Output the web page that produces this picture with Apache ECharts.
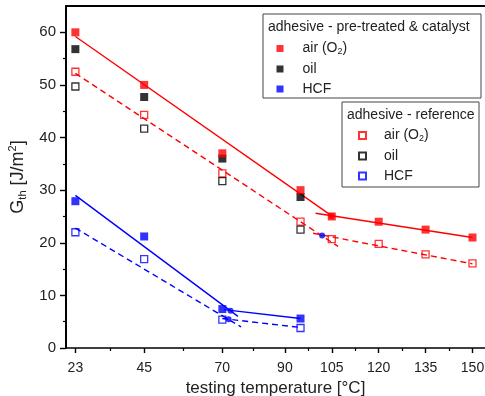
<!DOCTYPE html>
<html>
<head>
<meta charset="utf-8">
<script src="https://cdn.jsdelivr.net/npm/echarts@6/dist/echarts.min.js"></script>
<style>
  html, body { margin: 0; padding: 0; background: #fff; }
  #chart { width: 485px; height: 396px; }
</style>
</head>
<body>
<div id="chart"></div>
<script>
var font = 'Liberation Sans, Arial, sans-serif';
var txt = '#222';

// axis ticks
var xTicks = [23, 45, 70, 90, 105, 120, 135, 150];
var xMinor = [34, 57.5, 80, 97.5, 112.5, 127.5, 142.5];
var yTicks = [0, 10, 20, 30, 40, 50, 60];
var yMinor = [5, 15, 25, 35, 45, 55];

// measured points
var temps = [23, 45, 70, 95, 105, 120, 135, 150];
var airPre = [60, 50, 37, 30, 25, 24, 22.5, 21];
var oilPre = [56.8, 47.7, 36, 28.7];
var hcfPre = [27.9, 21.2, 7.4, 5.6];
var airRef = [52.5, 44.3, 33.2, 24, 20.7, 19.8, 17.8, 16.1];
var oilRef = [49.7, 41.7, 31.7, 22.5];
var hcfRef = [22, 16.9, 5.4, 3.8];

// fit lines (end points) and their intersections
var airPreFit = [[[23, 59.2], [105, 25.1]], [[99.8, 25.6], [150, 21]]];
var airRefFit = [[[23, 52.2], [107, 19.3]], [[99, 21.8], [150, 16]]];
var hcfPreFit = [[[23, 29], [75, 6.0]], [[70.5, 7.3], [95, 5.6]]];
var hcfRefFit = [[[23, 22.8], [76, 4.0]], [[70, 5.6], [95, 3.9]]];
var crossPre = [[104.9, 25.1], [72.6, 7.1]];
var crossRef = [[101.9, 21.4], [72, 5.45]];

var labels = {
    airPre: '{g|}{t|air (O}{s|2}{t|)}', oilPre: '{g|}{t|oil}', hcfPre: '{g|}{t|HCF}',
    airRef: '{h|}{t|air (O}{s|2}{t|)}', oilRef: '{h|}{t|oil}', hcfRef: '{h|}{t|HCF}'
};

function pts(vals) {
    return vals.map(function (v, i) { return [temps[i], v]; });
}

function dots(name, vals, color, open) {
    return {
        name: name,
        type: 'scatter',
        symbol: 'rect',
        symbolSize: open ? 7 : 8,
        z: open ? 3 : 4,
        itemStyle: open
            ? { color: 'rgba(255,255,255,0)', borderColor: color, borderWidth: 1.3 }
            : { color: color },
        data: pts(vals)
    };
}

function fit(line, color, dashed) {
    return {
        type: 'line',
        symbol: 'none',
        silent: true,
        z: 2,
        lineStyle: { color: color, width: 1.4, type: dashed ? [6, 4] : 'solid' },
        data: line
    };
}

var legendText = {
    fontSize: 14, color: txt, fontFamily: font, lineHeight: 15,
    rich: {
        t: { fontSize: 14, color: txt, fontFamily: font, lineHeight: 15 },
        s: { fontSize: 9, color: txt, fontFamily: font, lineHeight: 15, padding: [7, 0, 0, 0] },
        g: { width: 14 },
        h: { width: 13 }
    }
};

var series = [
    dots('oilPre', oilPre, '#000', false),
    dots('airPre', airPre, '#ff0000', false),
    dots('hcfPre', hcfPre, '#0000ff', false),
    dots('airRef', airRef, '#ff0000', true),
    dots('oilRef', oilRef, '#000', true),
    dots('hcfRef', hcfRef, '#0000ff', true),
    fit(airPreFit[0], '#ff0000', false), fit(airPreFit[1], '#ff0000', false),
    fit(airRefFit[0], '#ff0000', true), fit(airRefFit[1], '#ff0000', true),
    fit(hcfPreFit[0], '#0000ff', false), fit(hcfPreFit[1], '#0000ff', false),
    fit(hcfRefFit[0], '#0000ff', true), fit(hcfRefFit[1], '#0000ff', true),
    { type: 'scatter', symbol: 'circle', symbolSize: 6, silent: true, z: 3,
      itemStyle: { color: function (p) { return p.dataIndex === 0 ? '#ff0000' : '#0000ff'; } },
      data: crossPre.concat(crossRef) }
];

var option = {
    backgroundColor: '#fff',
    animation: false,
    grid: { left: 66, right: 0, top: 6, bottom: 48, outerBoundsMode: 'none' },
    xAxis: [
        {
            type: 'value', min: 20, max: 154, position: 'bottom',
            axisLine: { show: true, onZero: false, lineStyle: { color: '#000', width: 1.6 } },
            axisTick: { show: true, customValues: xTicks, length: 5, lineStyle: { color: '#000', width: 1.4 } },
            axisLabel: { customValues: xTicks, margin: 13, fontSize: 14, color: txt, fontFamily: font },
            splitLine: { show: false },
            name: 'testing temperature [°C]', nameLocation: 'middle', nameGap: 26,
            nameTextStyle: { fontSize: 17, color: txt, fontFamily: font }
        },
        {
            type: 'value', min: 20, max: 154, position: 'bottom',
            axisLine: { show: false },
            axisTick: { show: true, customValues: xMinor, length: 3, lineStyle: { color: '#000', width: 1.2 } },
            axisLabel: { show: false }, splitLine: { show: false }
        },
        {
            type: 'value', min: 20, max: 154, position: 'top',
            axisLine: { show: true, onZero: false, lineStyle: { color: '#000', width: 2 } },
            axisTick: { show: false }, axisLabel: { show: false }, splitLine: { show: false }
        }
    ],
    yAxis: [
        {
            type: 'value', min: 0, max: 65, position: 'left',
            axisLine: { show: true, onZero: false, lineStyle: { color: '#000', width: 2 } },
            axisTick: { show: true, customValues: yTicks, length: 6, lineStyle: { color: '#000', width: 1.4 } },
            axisLabel: { customValues: yTicks, margin: 10, fontSize: 15, color: txt, fontFamily: font },
            splitLine: { show: false },
            name: '{a|G}{b|th}{a| [J/m}{c|2}{a|]}', nameLocation: 'middle', nameGap: 31, nameRotate: 90,
            nameTextStyle: {
                color: txt, fontFamily: font, fontSize: 18,
                rich: {
                    a: { fontSize: 18, color: txt, fontFamily: font, lineHeight: 22 },
                    b: { fontSize: 11, color: txt, fontFamily: font, lineHeight: 22, padding: [10, 0, 0, 0] },
                    c: { fontSize: 11, color: txt, fontFamily: font, lineHeight: 22, padding: [0, 0, 9, 0] }
                }
            }
        },
        {
            type: 'value', min: 0, max: 65, position: 'left',
            axisLine: { show: false },
            axisTick: { show: true, customValues: yMinor, length: 3, lineStyle: { color: '#000', width: 1.2 } },
            axisLabel: { show: false }, splitLine: { show: false }
        }
    ],
    legend: [
        {
            orient: 'vertical', left: 276.5, top: 40.5, padding: 0,
            itemWidth: 7, itemHeight: 7, itemGap: 5, selectedMode: false, z: 6,
            data: ['airPre', 'oilPre', 'hcfPre'],
            formatter: function (n) { return labels[n]; },
            textStyle: legendText
        },
        {
            orient: 'vertical', left: 358, top: 127.5, padding: 0,
            itemWidth: 7, itemHeight: 7, itemGap: 5, selectedMode: false, z: 6,
            data: ['airRef', 'oilRef', 'hcfRef'],
            formatter: function (n) { return labels[n]; },
            textStyle: legendText
        }
    ],
    graphic: [
        { type: 'rect', z: 5, shape: { x: 263, y: 14, width: 218, height: 84 },
          style: { fill: '#fff', stroke: '#444', lineWidth: 1 } },
        { type: 'text', z: 6, x: 268, y: 27,
          style: { text: 'adhesive - pre-treated & catalyst', font: '14px ' + font, fill: txt, verticalAlign: 'middle' } },
        { type: 'rect', z: 5, shape: { x: 342, y: 102, width: 137, height: 85 },
          style: { fill: '#fff', stroke: '#444', lineWidth: 1 } },
        { type: 'text', z: 6, x: 347, y: 115,
          style: { text: 'adhesive - reference', font: '14px ' + font, fill: txt, verticalAlign: 'middle' } }
    ],
    series: series
};

var myChart = echarts.init(document.getElementById('chart'));
myChart.setOption(option);
</script>
</body>
</html>
